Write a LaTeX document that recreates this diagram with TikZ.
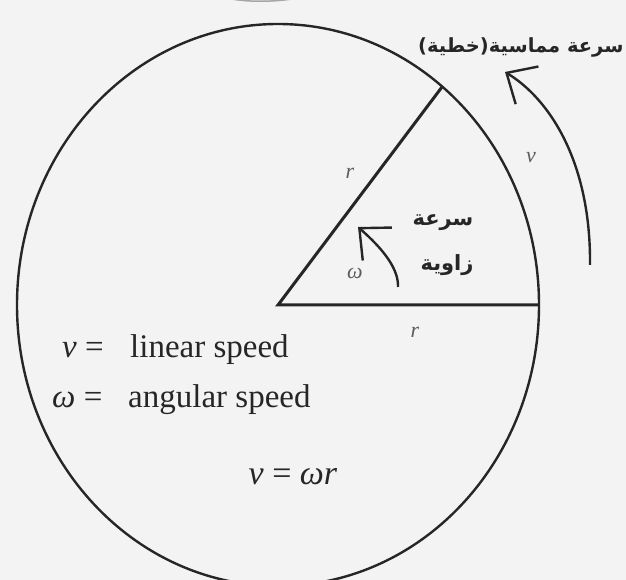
\documentclass[tikz,border=0pt]{standalone}
\usepackage{fontspec}
\setmainfont{Liberation Serif}
\newfontfamily\arabicfont[Script=Arabic]{DejaVu Sans}
\TeXXeTstate=1
\usepackage{xcolor}
\definecolor{paper}{HTML}{F3F3F3}
\definecolor{ink}{HTML}{262626}
\usetikzlibrary{arrows.meta,calc}

\begin{document}
\begin{tikzpicture}[x=1pt, y=1pt,
    rim/.style={draw=ink, line width=2.4pt},
    spoke/.style={draw=ink, line width=3pt},
    turn/.style={draw=ink, line width=2.4pt, -{Straight Barb[length=24pt, width=44pt, line width=2.4pt]}},
    sym/.style={font=\fontsize{22}{22}\selectfont\itshape, text=ink!75},
    note/.style={font=\fontsize{33}{33}\selectfont, text=ink, inner sep=0pt},
    ar/.style={font=\fontsize{21}{24}\selectfont\arabicfont\bfseries, text=ink, inner sep=0pt}
  ]
  \useasboundingbox (0,0) rectangle (626,580);
  \fill[paper] (0,0) rectangle (626,580);
  \begin{scope}
    \clip (0,0) rectangle (626,580);
    \draw[gray!70, line width=1.5pt] (232,581) .. controls (248,578) and (272,578) .. (292,581);
    \coordinate (O) at (278,275);
    \coordinate (A) at ($(O)+(51:261pt and 281pt)$);
    \coordinate (B) at (539,275);
    \draw[rim] (O) ellipse [x radius=261pt, y radius=281pt];
    \draw[spoke] (A) -- (O) -- (B);
    \node[sym] (r1) at (350,407) {r};
    \node[sym] (r2) at (415,248) {r};
    \node[sym] (w) at (355,307) {ω};
    \node[sym] (v) at (531,422) {v};
    \coordinate (w0) at (398,293);
    \coordinate (w1) at (358,353);
    \draw[turn] (w0) .. controls (399,315) and (375,338) .. (w1);
    \coordinate (v0) at (590,315);
    \coordinate (v1) at (505,508);
    \draw[turn] (v0) .. controls (591,420) and (548,482) .. (v1);
    \node[ar] (ang1) at (443,357) {\beginR سرعة\endR};
    \node[ar] (ang2) at (447,315) {\beginR زاوية\endR};
    \node[ar, font=\fontsize{19.5}{22}\selectfont\arabicfont\bfseries, anchor=west] (tang) at (418,533) {\beginR سرعة مماسية(خطية)\endR};
    \node[note, anchor=base west] (lin) at (62,222) {\makebox[68pt][l]{\textit{v} =}linear speed};
    \node[note, anchor=base west] (angl) at (52,172) {\makebox[76pt][l]{\textit{ω} =}angular speed};
    \node[note, font=\fontsize{34}{34}\selectfont, anchor=base] (law) at (293,95) {\textit{v} = \textit{ωr}};
  \end{scope}
\end{tikzpicture}
\end{document}
